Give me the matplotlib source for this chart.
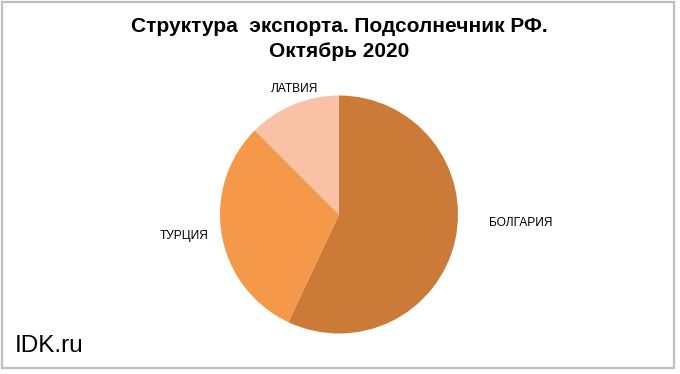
import matplotlib
matplotlib.use('Agg')
import numpy as np
import matplotlib.pyplot as plt
from matplotlib.patches import Rectangle

plt.rcParams['font.family'] = ['Liberation Sans', 'DejaVu Sans']

countries = ['БОЛГАРИЯ', 'ТУРЦИЯ', 'ЛАТВИЯ']
shares = [57.0, 30.5, 12.5]
colors = ['#CC7A38', '#F69849', '#F9C1A6']
label_dist = [1.53, 1.31, 1.12]
label_shift = [10, -2, -3]  # degrees

fig = plt.figure(figsize=(6.8, 3.74), dpi=100)
W, H = 680, 374

# frame around the chart
fig.patches.append(Rectangle((2 / W, 6 / H), 672 / W, 366 / H, transform=fig.transFigure,
                             fill=False, edgecolor='#BFBFBF', linewidth=1.6))

ax = fig.add_axes([220 / W, (374 - 333.5) / H, 238 / W, 238 / H])
wedges, _ = ax.pie(shares, colors=colors, startangle=90, counterclock=False,
                   radius=1.0, wedgeprops=dict(linewidth=0))
ax.set_xlim(-1, 1)
ax.set_ylim(-1, 1)
ax.set_aspect('auto')
ax.axis('off')

for w, name, d, s in zip(wedges, countries, label_dist, label_shift):
    ang = np.deg2rad((w.theta1 + w.theta2) / 2 + s)
    ax.text(d * np.cos(ang), d * np.sin(ang), name, ha='center', va='center',
            fontsize=8.6, color='black', clip_on=False)

fig.text(339 / W, 1 - 32 / H, 'Структура  экспорта. Подсолнечник РФ.', ha='center', va='baseline',
         fontsize=15, fontweight='bold')
fig.text(339 / W, 1 - 57 / H, 'Октябрь 2020', ha='center', va='baseline',
         fontsize=15, fontweight='bold')
fig.text(15 / W, 1 - 352 / H, 'IDK.ru', ha='left', va='baseline', fontsize=17.5)

fig.savefig('out.png', dpi=100)
